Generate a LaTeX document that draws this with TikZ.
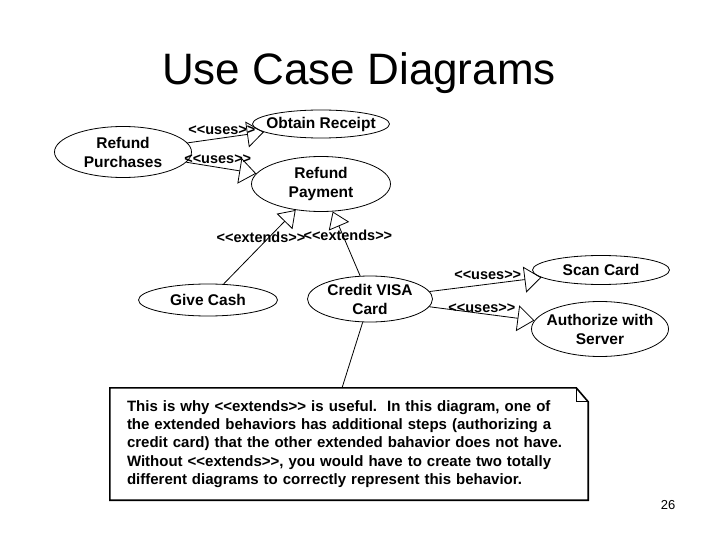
\documentclass[tikz,border=0pt]{standalone}
\usepackage{fontspec}
\setmainfont{Liberation Sans}
\usepackage{tikz}
\usetikzlibrary{shapes.geometric, arrows.meta, positioning}

\newcommand\stereo[1]{<{}<#1>{}>}

\begin{document}
\begin{tikzpicture}[
    x=1pt, y=-1pt,
    usecase/.style={ellipse, draw=black, line width=0.8pt,
                    inner xsep=-30pt, inner ysep=0pt,
                    align=center, font=\fontsize{15.5}{19}\selectfont\bfseries},
    tag/.style={font=\fontsize{14.5}{16}\selectfont\bfseries, inner sep=1pt},
    uses/.style={-{Triangle[open, length=17pt, width=26pt]}, line width=0.8pt},
    extends/.style={-{Triangle[open, length=16pt, width=22pt]}, line width=0.8pt},
    notebox/.style={rectangle, draw=none, minimum width=478pt,
                    minimum height=112pt, inner xsep=17pt, text width=444pt,
                    align=left, font=\fontsize{15}{18.3}\selectfont\bfseries},
    fold/.style={line width=1.6pt, line join=miter}
]
\useasboundingbox (0,0) rectangle (720,540);

%% --- TITLE ---
\node[anchor=base, font=\fontsize{44}{50}\selectfont] (title) at (359,85)
    {Use Case Diagrams};

%% --- USE CASES ---
\node[usecase, minimum width=137pt, minimum height=51pt] (refpur) at (123,152)
    {Refund\\Purchases};
\node[usecase, minimum width=137pt, minimum height=28pt] (receipt) at (321,124)
    {Obtain Receipt};
\node[usecase, minimum width=139pt, minimum height=55pt] (refpay) at (321,184)
    {Refund\\Payment};
\node[usecase, minimum width=139pt, minimum height=32pt] (cash) at (208,300)
    {Give Cash};
\node[usecase, minimum width=125pt, minimum height=46pt] (visa) at (370,299)
    {Credit VISA\\Card};
\node[usecase, minimum width=137pt, minimum height=29pt] (scan) at (601,270)
    {Scan Card};
\node[usecase, minimum width=137pt, minimum height=55pt] (auth) at (600,329)
    {Authorize with\\Server};

%% --- NOTE ---
\node[notebox] (note) at (349,444)
    {This is why \stereo{extends} is useful.\ \ In this diagram, one of\\
     the extended behaviors has additional steps (authorizing a\\
     credit card) that the other extended bahavior does not have.\\
     Without \stereo{extends}, you would have to create two totally\\
     different diagrams to correctly represent this behavior.};
\coordinate (notepin) at (342,388);

%% --- ARROWS: uses ---
\draw[uses] (refpur) -- node[tag, above=2pt, pos=0.45] {\stereo{uses}} (receipt);
\draw[uses] (refpur) -- node[tag, above=2pt, pos=0.45] {\stereo{uses}} (refpay);
\draw[uses] (visa) -- node[tag, above=3pt, pos=0.52] {\stereo{uses}} (scan);
\draw[uses] (visa) -- node[tag, above=0pt, pos=0.5] {\stereo{uses}} (auth);

%% --- ARROWS: extends ---
\draw[extends] (cash) -- node[tag, pos=0.63, xshift=-8pt] {\stereo{extends}} (refpay);
\draw[extends] (visa) -- node[tag, pos=0.63, xshift=5pt] {\stereo{extends}} (refpay);

%% --- NOTE LINK + OUTLINE ---
\draw[line width=0.8pt] (visa) -- (notepin);
\draw[fold] (note.north west) -- ([xshift=-12pt]note.north east)
    -- ([yshift=-14pt]note.north east) -- (note.south east)
    -- (note.south west) -- cycle;
\draw[line width=1pt] ([xshift=-12pt]note.north east) -- ++(0,14)
    -- ([yshift=-14pt]note.north east);

%% --- PAGE NUMBER ---
\node[font=\fontsize{13}{15}\selectfont] (pagenum) at (668,505) {26};

\end{tikzpicture}
\end{document}
